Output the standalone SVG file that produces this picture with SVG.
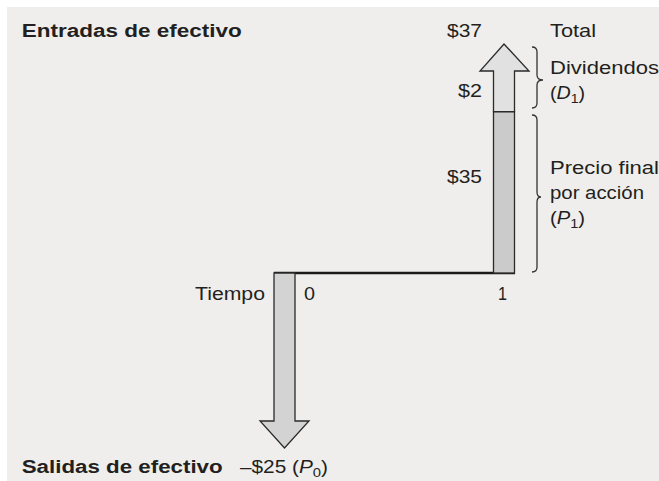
<svg xmlns="http://www.w3.org/2000/svg" width="659" height="481" viewBox="0 0 659 481">
<style>
text{font-family:"Liberation Sans",Arial,sans-serif;fill:#231f20;font-size:17.5px}
.b{font-weight:bold;font-size:18px}
.sh{stroke:#2a2a2a;stroke-width:1.3;stroke-linejoin:miter}
.br{fill:none;stroke:#333;stroke-width:1.3}
</style>
<rect x="0" y="0" width="659" height="481" fill="#ffffff"/>
<rect x="7" y="7" width="652" height="474" fill="#efeeec"/>
<g id="connectors">
<line x1="274" y1="273" x2="515" y2="273" stroke="#1a1a1a" stroke-width="2.4"/>
</g>
<g id="inflow-arrow">
<rect class="sh" x="493.5" y="111.7" width="21" height="161.3" fill="#cbcbcb"/>
<polygon class="sh" points="493.5,111.7 493.5,71 480,71 504,44 529,71 514.5,71 514.5,111.7" fill="#e1e1e1"/>
</g>
<g id="outflow-arrow">
<polygon class="sh" points="274,273 295,273 295,421 309,421 284.5,448 260,421 274,421" fill="#d3d3d3"/>
</g>
<g id="braces">
<path class="br" d="M532,47 Q537,47 537,52 L537,75 Q537,80 543,80 Q537,80 537,85 L537,103 Q537,108 532,108"/>
<path class="br" d="M532,115 Q537,115 537,120 L537,192 Q537,197 541,197 Q537,197 537,202 L537,267 Q537,272 532,272"/>
</g>
<g id="labels">
<text class="b" x="21.7" y="37" textLength="220" lengthAdjust="spacingAndGlyphs">Entradas de efectivo</text>
<text x="447" y="37" textLength="35" lengthAdjust="spacingAndGlyphs">$37</text>
<text x="550" y="37" textLength="46" lengthAdjust="spacingAndGlyphs">Total</text>
<text x="550" y="74" textLength="109" lengthAdjust="spacingAndGlyphs">Dividendos</text>
<text x="550" y="99" textLength="35" lengthAdjust="spacingAndGlyphs">(<tspan font-style="italic">D</tspan><tspan font-size="12.5" dy="4">1</tspan><tspan dy="-4">)</tspan></text>
<text x="458" y="97" textLength="24" lengthAdjust="spacingAndGlyphs">$2</text>
<text x="447" y="183" textLength="35" lengthAdjust="spacingAndGlyphs">$35</text>
<text x="550" y="174" textLength="109" lengthAdjust="spacingAndGlyphs">Precio final</text>
<text x="550" y="199" textLength="94" lengthAdjust="spacingAndGlyphs">por acción</text>
<text x="550" y="224" textLength="35" lengthAdjust="spacingAndGlyphs">(<tspan font-style="italic">P</tspan><tspan font-size="12.5" dy="4">1</tspan><tspan dy="-4">)</tspan></text>
<text x="195" y="300" textLength="70" lengthAdjust="spacingAndGlyphs">Tiempo</text>
<text x="304" y="300" textLength="11" lengthAdjust="spacingAndGlyphs">0</text>
<text x="498" y="300" textLength="9" lengthAdjust="spacingAndGlyphs">1</text>
<text class="b" x="21.7" y="473" textLength="201" lengthAdjust="spacingAndGlyphs">Salidas de efectivo</text>
<text x="240" y="473" textLength="88" lengthAdjust="spacingAndGlyphs">–$25 (<tspan font-style="italic">P</tspan><tspan font-size="12.5" dy="4">0</tspan><tspan dy="-4">)</tspan></text>
</g>
</svg>
